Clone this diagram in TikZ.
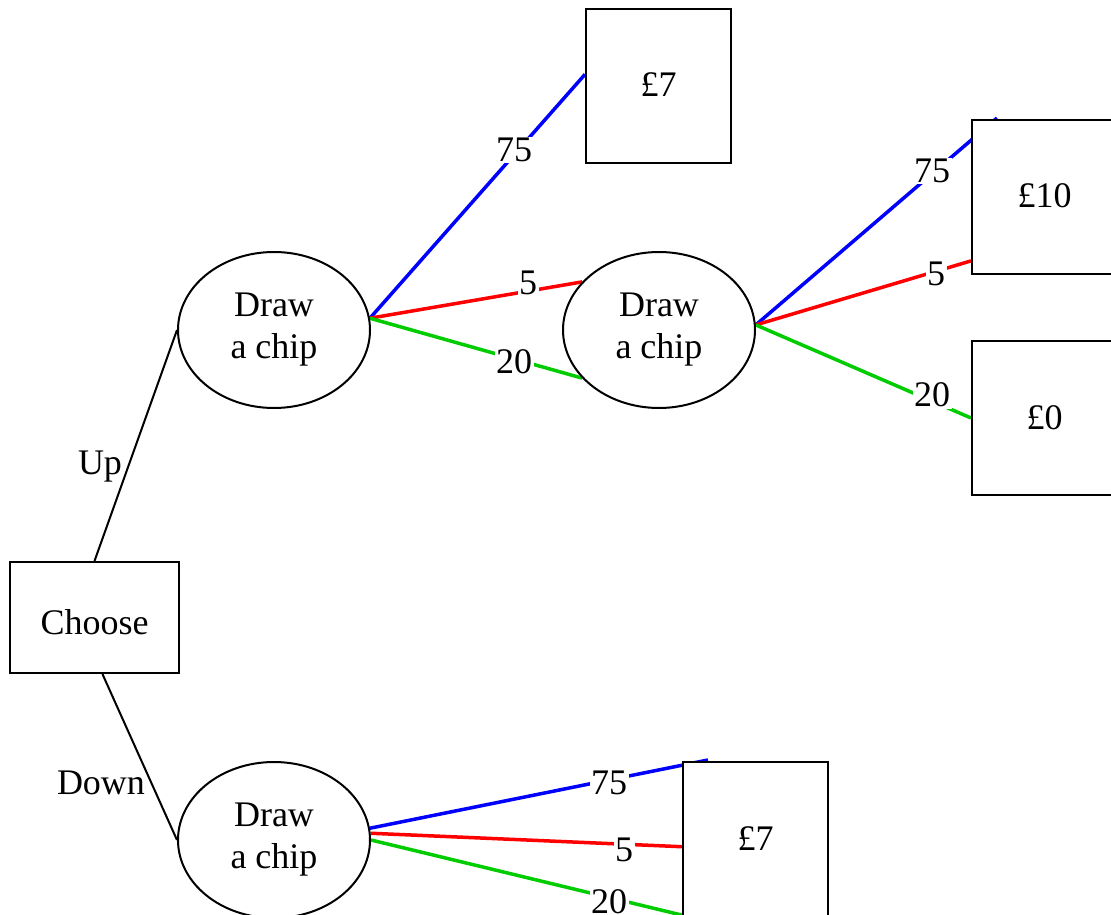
\documentclass[tikz,border=0pt]{standalone}
\usepackage{fontspec}
\setmainfont{Liberation Serif}
\usetikzlibrary{shapes.geometric}
\pgfdeclarelayer{bg}
\pgfsetlayers{bg,main}
\definecolor{chipblue}{RGB}{0,0,255}
\definecolor{chipred}{RGB}{255,0,0}
\definecolor{chipgreen}{RGB}{0,204,0}
% shift text by #1 while keeping its box size for node centring
\newcommand{\nudge}[2]{\raisebox{#1}[\height][\depth]{#2}}
\begin{document}
\begin{tikzpicture}[x=1pt,y=-1pt,
  every node/.style={font=\fontsize{36}{42}\selectfont},
  decision/.style={draw, line width=2pt, fill=white, rectangle,
    minimum width=169pt, minimum height=111pt, inner sep=0pt},
  chance/.style={draw, ellipse, line width=2pt, fill=white, align=center,
    minimum width=192pt, minimum height=156pt, inner sep=0pt},
  payoff/.style={draw, line width=2pt, fill=white, rectangle,
    minimum width=145pt, minimum height=154pt, inner sep=0pt},
  branch/.style={line width=2pt},
  pblue/.style={line width=3.5pt, chipblue},
  pred/.style={line width=3.5pt, chipred},
  pgreen/.style={line width=3.5pt, chipgreen},
  lbl/.style={fill=white, inner sep=1.5pt},
  side/.style={inner sep=0pt}]
\useasboundingbox (0,0) rectangle (1111,915);
\clip (0,0) rectangle (1111,915);

% decision and chance nodes
\node[decision] (choose) at (94.5,617.5) {\nudge{-5pt}{Choose}};
\node[chance] (up)   at (274,330) {Draw\\a chip};
\node[chance] (again) at (659,330) {Draw\\a chip};
\node[chance] (down) at (274,840) {Draw\\a chip};

% payoffs
\node[payoff] (upseven) at (658.5,86)  {\nudge{1pt}{£7}};
\node[payoff] (ten)     at (1044.5,197) {\nudge{1pt}{£10}};
\node[payoff] (zero)    at (1044.5,418) {£0};
\node[payoff] (dnseven) at (755.5,839) {£7};

% free ends that run just past the box tops
\coordinate (tentip) at (997,118);
\coordinate (dntip)  at (708,760);

\begin{pgfonlayer}{bg}
  \draw[branch] (choose.north) -- (up.west);
  \draw[branch] (choose.-82) -- (down.west);

  \draw[pblue]  (up.7) -- (upseven.171);
  \draw[pred]   (up.7) -- (again.148);
  \draw[pgreen] (up.7) -- (again.212);

  \draw[pblue]  (again.3) -- (tentip);
  \draw[pred]   (again.3) -- (ten.221);
  \draw[pgreen] (again.3) -- (zero.west);

  \draw[pblue]  (down.7) -- (dntip);
  \draw[pred]   (down.4) -- (dnseven.186);
  \draw[pgreen] (down.0) -- (dnseven.226);
\end{pgfonlayer}

% branch labels
\node[side] (lup)   at (100,463) {\nudge{-4pt}{Up}};
\node[side] (ldown) at (101,783) {Down};

\node[lbl] (l1) at (514,150) {75};
\node[lbl] (l2) at (528,283) {5};
\node[lbl] (l3) at (514,362) {20};

\node[lbl] (l4) at (932,171) {75};
\node[lbl] (l5) at (936,274) {5};
\node[lbl] (l6) at (932,395) {20};

\node[lbl] (l7) at (609,783) {75};
\node[lbl] (l8) at (624,850) {5};
\node[lbl] (l9) at (609,902) {20};
\end{tikzpicture}
\end{document}
